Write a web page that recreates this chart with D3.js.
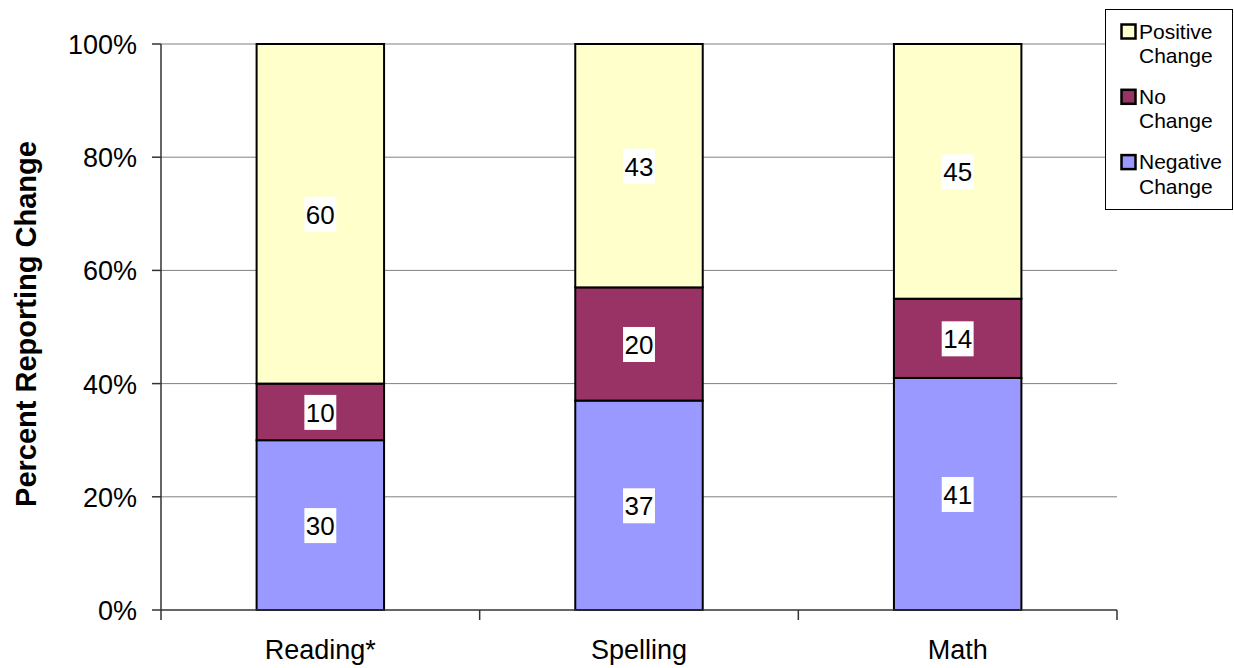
<!DOCTYPE html>
<html>
<head>
<meta charset="utf-8">
<script src="https://cdn.jsdelivr.net/npm/d3@7"></script>
<style>
  body { margin: 0; background: #fff; }
  svg { display: block; font-family: Arial, "Liberation Sans", sans-serif; }
</style>
</head>
<body>
<svg id="chart" width="1234" height="668"></svg>
<script>
const categories = ['Reading*', 'Spelling', 'Math']
const negative = [30, 37, 41]
const noChange = [10, 20, 14]
const positive = [60, 43, 45]
const yTicks = [0, 20, 40, 60, 80, 100]

const seriesNames = ['Negative Change', 'No Change', 'Positive Change']
const seriesColors = ['#9999FF', '#993366', '#FFFFCC']

const svg = d3.select('#chart')
const margin = { left: 161, right: 117, top: 44, bottom: 58 }
const width = 1234, height = 668
const x0 = margin.left, x1 = width - margin.right
const y0 = height - margin.bottom, y1 = margin.top

const x = d3.scaleBand().domain(categories).range([x0, x1]).paddingInner(0.6).paddingOuter(0.3)
const xOuter = d3.scaleBand().domain(categories).range([x0, x1])
const y = d3.scaleLinear().domain([0, 100]).range([y0, y1])

// gridlines
svg.append('g')
  .selectAll('line')
  .data(yTicks.filter(d => d > 0))
  .join('line')
  .attr('x1', x0).attr('x2', x1)
  .attr('y1', d => y(d)).attr('y2', d => y(d))
  .attr('stroke', '#808080')
  .attr('stroke-width', 1)

// stacked data
const rows = categories.map((c, i) => ({ cat: c, neg: negative[i], no: noChange[i], pos: positive[i] }))
const stack = d3.stack().keys(['neg', 'no', 'pos'])(rows)

const layers = svg.append('g')
  .selectAll('g')
  .data(stack)
  .join('g')
  .attr('fill', (d, i) => seriesColors[i])

layers.selectAll('rect')
  .data(d => d)
  .join('rect')
  .attr('x', d => x(d.data.cat))
  .attr('width', x.bandwidth())
  .attr('y', d => y(d[1]))
  .attr('height', d => y(d[0]) - y(d[1]))
  .attr('stroke', '#000')
  .attr('stroke-width', 2)

// value labels with white boxes
const labels = svg.append('g')
stack.forEach(layer => {
  layer.forEach(d => {
    const val = d[1] - d[0]
    const cx = x(d.data.cat) + x.bandwidth() / 2
    const cy = y((d[0] + d[1]) / 2)
    const g = labels.append('g')
    const t = g.append('text')
      .attr('x', cx).attr('y', cy + 10)
      .attr('text-anchor', 'middle')
      .attr('font-size', 26)
      .attr('fill', '#000')
      .text(val)
    const bb = t.node().getBBox()
    g.insert('rect', 'text')
      .attr('x', cx - bb.width / 2 - 1.5).attr('y', cy - 17)
      .attr('width', bb.width + 3).attr('height', 35)
      .attr('fill', '#fff')
  })
})

// y axis
const yAxis = svg.append('g')
yAxis.append('line')
  .attr('x1', x0).attr('x2', x0).attr('y1', y1).attr('y2', y0)
  .attr('stroke', '#333').attr('stroke-width', 1.5)
yAxis.selectAll('.tick')
  .data(yTicks)
  .join('line')
  .attr('x1', x0 - 9).attr('x2', x0)
  .attr('y1', d => y(d)).attr('y2', d => y(d))
  .attr('stroke', '#333').attr('stroke-width', 1.5)
yAxis.selectAll('text')
  .data(yTicks)
  .join('text')
  .attr('x', 137)
  .attr('y', d => y(d) + 10)
  .attr('text-anchor', 'end')
  .attr('font-size', 27)
  .text(d => d + '%')

// x axis
const xAxis = svg.append('g')
xAxis.append('line')
  .attr('x1', x0).attr('x2', x1).attr('y1', y0).attr('y2', y0)
  .attr('stroke', '#333').attr('stroke-width', 1.5)
const bounds = categories.map(c => xOuter(c)).concat([x1])
xAxis.selectAll('.xt')
  .data(bounds)
  .join('line')
  .attr('x1', d => d).attr('x2', d => d)
  .attr('y1', y0).attr('y2', y0 + 10)
  .attr('stroke', '#333').attr('stroke-width', 1.5)
xAxis.selectAll('text')
  .data(categories)
  .join('text')
  .attr('x', d => xOuter(d) + xOuter.bandwidth() / 2)
  .attr('y', 659)
  .attr('text-anchor', 'middle')
  .attr('font-size', 27)
  .text(d => d)

// y title
svg.append('text')
  .attr('transform', `translate(26,324) rotate(-90)`)
  .attr('text-anchor', 'middle')
  .attr('dominant-baseline', 'central')
  .attr('font-size', 29)
  .attr('font-weight', 'bold')
  .text('Percent Reporting Change')

// legend
const legend = svg.append('g')
legend.append('rect')
  .attr('x', 1105.5).attr('y', 9.5).attr('width', 127).attr('height', 200)
  .attr('fill', '#fff').attr('stroke', '#000').attr('stroke-width', 1)
const legendItems = [2, 1, 0]
legendItems.forEach((si, i) => {
  const base = 38.5 + i * 65.3
  const words = seriesNames[si].split(' ')
  legend.append('rect')
    .attr('x', 1121.5).attr('y', base - 14).attr('width', 14).attr('height', 14)
    .attr('fill', seriesColors[si]).attr('stroke', '#000').attr('stroke-width', 2.5)
  words.forEach((w, j) => {
    legend.append('text')
      .attr('x', 1139).attr('y', base + j * 24.5)
      .attr('font-size', 21)
      .text(w)
  })
})
</script>
</body>
</html>
